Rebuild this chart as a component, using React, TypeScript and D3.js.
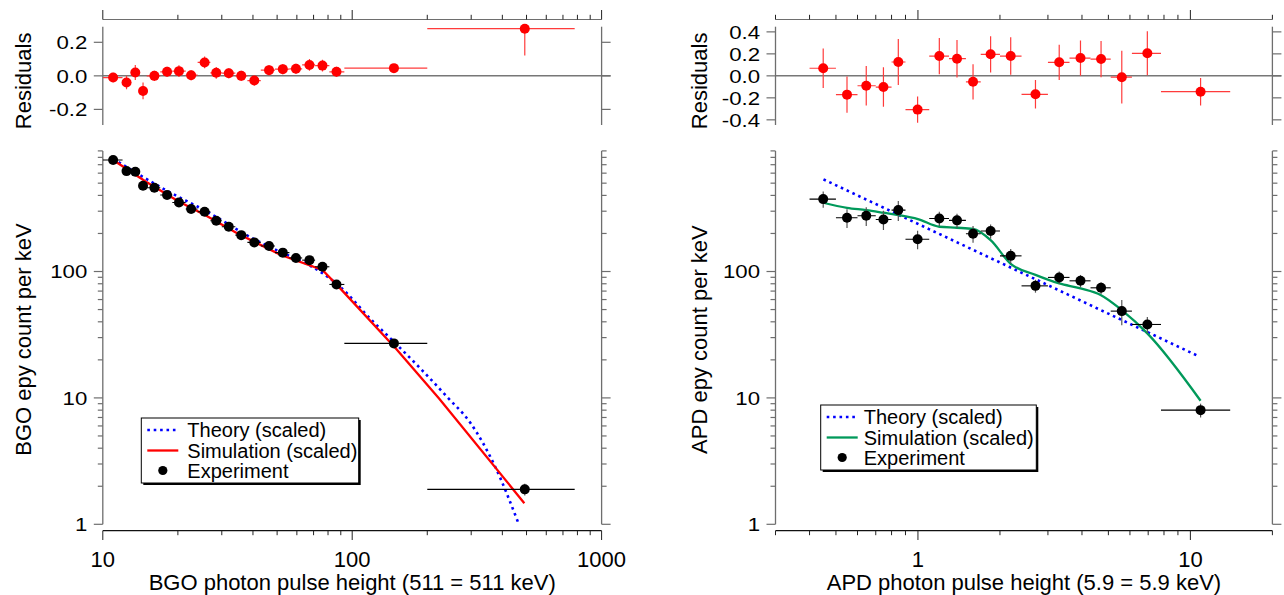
import React from 'react';
import * as d3 from 'd3';

// ---------- BGO (left) ----------
const bgoX = [11, 12.45, 13.5, 14.5, 16.1, 18.1, 20.2, 22.6, 25.6, 28.5, 32, 35.9, 40.5, 46.4, 52.7, 59.5, 67.4, 76, 86.5, 147, 492];
const bgoXLo = [10, 12, 13, 14, 15, 17, 19, 21.5, 24, 27, 30, 34, 38, 43, 49, 56, 63, 71, 81, 93, 200];
const bgoXHi = [12, 13, 14, 15, 17, 19, 21.5, 24, 27, 30, 34, 38, 43, 49, 56, 63, 71, 81, 93, 200, 780];
const bgoY = [762, 623, 615, 477, 460, 403, 352, 312, 297, 252, 226, 194, 170, 159, 141, 128, 123, 109, 79, 27, 1.89];
const bgoYErr = [15, 14, 14, 11, 10, 9, 8, 7, 7, 6, 5.5, 5, 4.5, 4, 4, 3.5, 3.5, 3, 2.5, 1.2, 0.2];
const bgoRes = [-0.01, -0.04, 0.02, -0.09, 0.0, 0.024, 0.028, 0.004, 0.08, 0.018, 0.016, 0.0, -0.028, 0.034, 0.04, 0.042, 0.065, 0.061, 0.024, 0.046, 0.281];
const bgoResErr = [0.028, 0.04, 0.045, 0.05, 0.03, 0.03, 0.035, 0.03, 0.035, 0.035, 0.03, 0.03, 0.03, 0.03, 0.03, 0.03, 0.035, 0.035, 0.03, 0.025, 0.16];
const bgoTheoryX = [11, 18.1, 25.6, 40.5, 49.9, 66.8, 76, 89.5, 120, 147, 240, 299, 372, 464];
const bgoTheoryY = [780, 435, 305, 180, 147, 113, 97, 75.6, 41, 27.8, 10.2, 6.27, 2.93, 1.02];
const bgoSimX = [11, 14.9, 20, 25.8, 34.7, 51.8, 76, 89.5, 149.6, 223, 490];
const bgoSimY = [762, 513, 361, 279, 200, 135, 103, 73.5, 24.6, 9.9, 1.47];

// ---------- APD (right) ----------
const apdX = [0.449, 0.549, 0.646, 0.747, 0.847, 0.997, 1.198, 1.391, 1.593, 1.848, 2.19, 2.7, 3.3, 3.95, 4.7, 5.6, 6.95, 10.9];
const apdXLo = [0.4, 0.5, 0.6, 0.7, 0.8, 0.9, 1.1, 1.3, 1.5, 1.7, 2.0, 2.4, 3.0, 3.6, 4.3, 5.1, 6.1, 7.8];
const apdXHi = [0.5, 0.6, 0.7, 0.8, 0.9, 1.1, 1.3, 1.5, 1.7, 2.0, 2.4, 3.0, 3.6, 4.3, 5.1, 6.1, 7.8, 14];
const apdY = [374, 266, 276, 258, 306, 180, 263, 254, 199, 209, 133, 77, 89.8, 84.4, 74.3, 48.6, 38.1, 8.0];
const apdYErr = [55, 45, 47, 45, 55, 30, 34, 33, 30, 27, 18, 9, 10, 9.5, 8, 11, 5.5, 1.0];
const apdRes = [0.069, -0.171, -0.09, -0.102, 0.126, -0.307, 0.18, 0.156, -0.054, 0.196, 0.18, -0.168, 0.123, 0.162, 0.153, -0.012, 0.205, -0.144];
const apdResErr = [0.18, 0.165, 0.18, 0.18, 0.21, 0.12, 0.165, 0.17, 0.16, 0.165, 0.17, 0.13, 0.16, 0.16, 0.165, 0.24, 0.2, 0.125];
const apdTheoryX = [0.45, 1, 2.16, 5, 10.7];
const apdTheoryY = [536, 238, 109, 46.4, 21.4];
const apdSimX = [0.449, 0.549, 0.646, 0.747, 0.847, 1.0, 1.198, 1.391, 1.593, 1.848, 2.19, 2.7, 3.3, 3.95, 4.7, 5.6, 6.95, 10.9];
const apdSimY = [350, 319, 306, 292, 280, 260, 226, 222, 217, 177, 115, 94, 80.5, 73.5, 65, 49.5, 32.4, 9.5];

const legendLabels = ['Theory (scaled)', 'Simulation (scaled)', 'Experiment'];

const FONT = '"Liberation Sans", Arial, Helvetica, sans-serif';

const TOP_AXIS_Y = 19.5;
const RES_TOP = 26.7;
const RES_BOTTOM = 125;
const MAIN_BOTTOM = 524.3;
const MAIN_TOP = 150.9;
const BOTTOM_AXIS_Y = 530.7;
const AXIS_GRAY = '#6e6e6e';

type PanelProps = {
  id: string;
  x0: number;
  x1: number;
  xDomain: [number, number];
  xLabelVals: number[];
  xTitle: string;
  yTitle: string;
  yTitleX: number;
  resDomain: [number, number];
  resTicks: number[];
  px: number[]; pxlo: number[]; pxhi: number[]; py: number[]; pyerr: number[];
  res: number[]; reserr: number[];
  thX: number[]; thY: number[]; thCurve: any;
  simX: number[]; simY: number[]; simColor: string; simCurve: any;
  legend: { x: number; y: number; w: number; h: number; tdx: number };
};

function YLabel({ x, y, t }: { x: number; y: number; t: string }) {
  return (
    <text transform={`translate(${x},${y}) scale(1.17,1)`} dy="0.36em" textAnchor="end" fontSize={19} fontFamily={FONT}>
      {t}
    </text>
  );
}

function Panel(p: PanelProps) {
  const xs = d3.scaleLog().domain(p.xDomain).range([p.x0, p.x1]);
  const ys = d3.scaleLog().domain([1, 900]).range([MAIN_BOTTOM, MAIN_TOP]);
  const rs = d3.scaleLinear().domain(p.resDomain).range([RES_BOTTOM, RES_TOP]);
  const xt = xs.ticks();
  const yt = ys.ticks();
  const isMajor = (v: number) => Math.abs(Math.log10(v) - Math.round(Math.log10(v))) < 1e-9;

  const thLine = d3.line<number>().x((_, i) => xs(p.thX[i])).y((d) => ys(d)).curve(p.thCurve);
  const simLine = d3.line<number>().x((_, i) => xs(p.simX[i])).y((d) => ys(d)).curve(p.simCurve);

  const lg = p.legend;
  const rows = [lg.y + 12, lg.y + 32.5, lg.y + 52.5];

  return (
    <g>
      <defs>
        <clipPath id={`res-${p.id}`}>
          <rect x={p.x0} y={RES_TOP} width={p.x1 - p.x0} height={RES_BOTTOM - RES_TOP} />
        </clipPath>
        <clipPath id={`main-${p.id}`}>
          <rect x={p.x0} y={MAIN_TOP - 2} width={p.x1 - p.x0} height={MAIN_BOTTOM - MAIN_TOP + 4} />
        </clipPath>
      </defs>

      {/* ---------- residual panel ---------- */}
      <line x1={p.x0} x2={p.x1} y1={TOP_AXIS_Y} y2={TOP_AXIS_Y} stroke={AXIS_GRAY} strokeWidth={1.2} />
      {xt.map((v, i) => (
        <line key={`tt${i}`} x1={xs(v)} x2={xs(v)} y1={TOP_AXIS_Y} y2={TOP_AXIS_Y - (isMajor(v) ? 9.5 : 4.7)} stroke="#222" strokeWidth={1} />
      ))}
      <line x1={p.x0} x2={p.x1 + 9} y1={rs(0)} y2={rs(0)} stroke="#777" strokeWidth={1.5} />
      <line x1={p.x0} x2={p.x0} y1={RES_TOP} y2={RES_BOTTOM} stroke={AXIS_GRAY} strokeWidth={1.3} />
      <line x1={p.x1} x2={p.x1} y1={RES_TOP} y2={RES_BOTTOM} stroke={AXIS_GRAY} strokeWidth={1.3} />
      {p.resTicks.map((v, i) => (
        <g key={`rt${i}`}>
          <line x1={p.x0 - 9} x2={p.x0} y1={rs(v)} y2={rs(v)} stroke={AXIS_GRAY} strokeWidth={1.2} />
          <line x1={p.x1} x2={p.x1 + 9} y1={rs(v)} y2={rs(v)} stroke={AXIS_GRAY} strokeWidth={1.2} />
          <YLabel x={p.x0 - 15.5} y={rs(v)} t={v.toFixed(1)} />
        </g>
      ))}
      <text transform={`translate(${p.yTitleX},${(RES_TOP + RES_BOTTOM) / 2 + 5}) rotate(-90)`} textAnchor="middle" fontSize={22} fontFamily={FONT}>
        Residuals
      </text>
      <g clipPath={`url(#res-${p.id})`}>
        {p.res.map((r, i) => (
          <g key={`re${i}`}>
            <line x1={xs(p.pxlo[i])} x2={xs(p.pxhi[i])} y1={rs(r)} y2={rs(r)} stroke="#ff3b3b" strokeWidth={1.2} />
            <line x1={xs(p.px[i])} x2={xs(p.px[i])} y1={rs(r - p.reserr[i])} y2={rs(r + p.reserr[i])} stroke="#ff3b3b" strokeWidth={1.2} />
          </g>
        ))}
      </g>
      {p.res.map((r, i) => (
        <circle key={`rd${i}`} cx={xs(p.px[i])} cy={rs(r)} r={5} fill="#ff0000" />
      ))}

      {/* ---------- main panel ---------- */}
      <line x1={p.x0} x2={p.x0} y1={MAIN_TOP} y2={MAIN_BOTTOM} stroke={AXIS_GRAY} strokeWidth={1.3} />
      <line x1={p.x1} x2={p.x1} y1={MAIN_TOP} y2={MAIN_BOTTOM} stroke={AXIS_GRAY} strokeWidth={1.3} />
      {yt.map((v, i) => {
        const L = isMajor(v) ? 9 : 5;
        return (
          <g key={`yt${i}`}>
            <line x1={p.x0 - L} x2={p.x0} y1={ys(v)} y2={ys(v)} stroke={AXIS_GRAY} strokeWidth={1.2} />
            <line x1={p.x1} x2={p.x1 + L} y1={ys(v)} y2={ys(v)} stroke={AXIS_GRAY} strokeWidth={1.2} />
            {isMajor(v) && <YLabel x={p.x0 - 15.5} y={ys(v)} t={String(v)} />}
          </g>
        );
      })}
      <text transform={`translate(${p.yTitleX},${(MAIN_TOP + MAIN_BOTTOM) / 2 + 2}) rotate(-90)`} textAnchor="middle" fontSize={22} fontFamily={FONT}>
        {p.yTitle}
      </text>

      <line x1={p.x0} x2={p.x1} y1={BOTTOM_AXIS_Y} y2={BOTTOM_AXIS_Y} stroke="#111" strokeWidth={1.2} />
      {xt.map((v, i) => (
        <line key={`bt${i}`} x1={xs(v)} x2={xs(v)} y1={BOTTOM_AXIS_Y} y2={BOTTOM_AXIS_Y + (isMajor(v) ? 9.3 : 4.5)} stroke="#222" strokeWidth={1} />
      ))}
      {p.xLabelVals.map((v, i) => (
        <text key={`xl${i}`} x={xs(v)} y={566.7} textAnchor="middle" fontSize={22} fontFamily={FONT}>
          {String(v)}
        </text>
      ))}
      <text x={(p.x0 + p.x1) / 2} y={590} textAnchor="middle" fontSize={22} fontFamily={FONT}>
        {p.xTitle}
      </text>

      <g clipPath={`url(#main-${p.id})`}>
        <path d={thLine(p.thY) || ''} fill="none" stroke="#0000ff" strokeWidth={2.6} strokeDasharray="2.6,3.8" />
        <path d={simLine(p.simY) || ''} fill="none" stroke={p.simColor} strokeWidth={2.3} />
        {p.py.map((y, i) => (
          <g key={`pt${i}`}>
            <line x1={xs(p.pxlo[i])} x2={xs(p.pxhi[i])} y1={ys(y)} y2={ys(y)} stroke="#000" strokeWidth={1.1} />
            <line x1={xs(p.px[i])} x2={xs(p.px[i])} y1={ys(y - p.pyerr[i])} y2={ys(y + p.pyerr[i])} stroke="#555" strokeWidth={1.2} />
            <circle cx={xs(p.px[i])} cy={ys(y)} r={5} fill="#000" />
          </g>
        ))}
      </g>

      <rect x={lg.x + 2} y={lg.y + 2} width={lg.w} height={lg.h} fill="#000" />
      <rect x={lg.x} y={lg.y} width={lg.w} height={lg.h} fill="#fff" stroke="#000" strokeWidth={1} />
      <line x1={lg.x + 6} x2={lg.x + 37} y1={rows[0]} y2={rows[0]} stroke="#0000ff" strokeWidth={2.6} strokeDasharray="2.6,3.8" />
      <line x1={lg.x + 6} x2={lg.x + 37} y1={rows[1]} y2={rows[1]} stroke={p.simColor} strokeWidth={2.3} />
      <circle cx={lg.x + 21.5} cy={rows[2]} r={4.6} fill="#000" />
      {legendLabels.map((t, i) => (
        <text key={`lg${i}`} x={lg.x + lg.tdx} y={rows[i]} dy="0.36em" fontSize={20} fontFamily={FONT}>
          {t}
        </text>
      ))}
    </g>
  );
}

export default function App() {
  return (
    <svg width={1284} height={595} style={{ position: 'absolute', left: 0, top: 0, background: '#fff' }}>
      <rect x={0} y={0} width={1284} height={595} fill="#fff" />
      <Panel
        id="bgo"
        x0={102.8}
        x1={601.6}
        xDomain={[10, 1000]}
        xLabelVals={[10, 100, 1000]}
        xTitle="BGO photon pulse height (511 = 511 keV)"
        yTitle="BGO epy count per keV"
        yTitleX={31}
        resDomain={[-0.293, 0.293]}
        resTicks={[-0.2, 0.0, 0.2]}
        px={bgoX} pxlo={bgoXLo} pxhi={bgoXHi} py={bgoY} pyerr={bgoYErr}
        res={bgoRes} reserr={bgoResErr}
        thX={bgoTheoryX} thY={bgoTheoryY} thCurve={d3.curveMonotoneX}
        simX={bgoSimX} simY={bgoSimY} simColor="#ff0000" simCurve={d3.curveLinear}
        legend={{ x: 141.3, y: 418, w: 217.4, h: 65, tdx: 46 }}
      />
      <Panel
        id="apd"
        x0={775.5}
        x1={1272.4}
        xDomain={[0.3, 20]}
        xLabelVals={[1, 10]}
        xTitle="APD photon pulse height (5.9 = 5.9 keV)"
        yTitle="APD epy count per keV"
        yTitleX={707}
        resDomain={[-0.447, 0.447]}
        resTicks={[-0.4, -0.2, 0.0, 0.2, 0.4]}
        px={apdX} pxlo={apdXLo} pxhi={apdXHi} py={apdY} pyerr={apdYErr}
        res={apdRes} reserr={apdResErr}
        thX={apdTheoryX} thY={apdTheoryY} thCurve={d3.curveLinear}
        simX={apdSimX} simY={apdSimY} simColor="#00995a" simCurve={d3.curveMonotoneX}
        legend={{ x: 820.7, y: 405, w: 215.6, h: 65, tdx: 43 }}
      />
    </svg>
  );
}
